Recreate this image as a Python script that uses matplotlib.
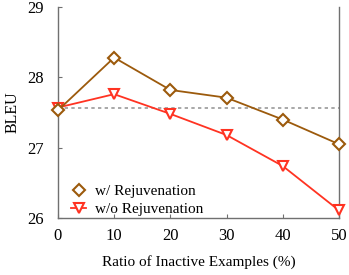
import numpy as np
import matplotlib.pyplot as plt
from matplotlib.lines import Line2D

# -- Data --
ratio = [0, 10, 20, 30, 40, 50]
bleu_rejuv = [27.53, 28.28, 27.82, 27.71, 27.40, 27.05]
bleu_no_rejuv = [27.57, 27.76, 27.48, 27.18, 26.74, 26.11]
baseline = 27.57

brown = '#9C5A0C'
red = '#FF3322'

plt.rcParams['font.family'] = ['Liberation Serif', 'DejaVu Serif']
plt.rcParams['font.size'] = 11

fig = plt.figure(figsize=(3.49, 2.75), dpi=100)
ax = fig.add_axes([0.166, 0.207, 0.805, 0.768])

ax.axhline(baseline, color='#999999', linestyle=(0, (2, 2)), linewidth=1.2, zorder=1)
ax.plot(ratio, bleu_no_rejuv, '-v', color=red, markerfacecolor='white',
        markeredgewidth=1.5, markersize=7, linewidth=1.3, clip_on=False, zorder=3)
ax.plot(ratio, bleu_rejuv, '-D', color=brown, markerfacecolor='white',
        markeredgewidth=1.5, markersize=6, linewidth=1.3, clip_on=False, zorder=4)

ax.set_xlim(0, 50)
ax.set_ylim(26, 29)
ax.set_xticks(ratio)
ax.set_yticks([26, 27, 28, 29])
ax.set_xlabel('Ratio of Inactive Examples (%)', labelpad=8)
ax.set_ylabel('BLEU', labelpad=5, fontsize=11.5)

ax.spines['top'].set_visible(False)
for s in ['left', 'bottom', 'right']:
    ax.spines[s].set_color('#707070')
    ax.spines[s].set_linewidth(1.0)
ax.tick_params(direction='in', length=3, color='#707070', labelsize=12)
ax.tick_params(axis='x', pad=7)
ax.tick_params(axis='y', pad=10)

# legend: first entry shows only the marker, second marker + line
handles = [
    Line2D([], [], linestyle='none', marker='D', color=brown, markerfacecolor='white',
           markeredgewidth=1.5, markersize=6),
    Line2D([], [], linestyle='-', marker='v', color=red, markerfacecolor='white',
           markeredgewidth=1.5, markersize=7, linewidth=1.3),
]
ax.legend(handles, ['w/ Rejuvenation', 'w/o Rejuvenation'], loc='lower left', frameon=False,
          handlelength=1.0, handletextpad=0.55, borderaxespad=0.0, labelspacing=0.3,
          bbox_to_anchor=(0.025, -0.02))

fig.savefig('out.png', dpi=100)
